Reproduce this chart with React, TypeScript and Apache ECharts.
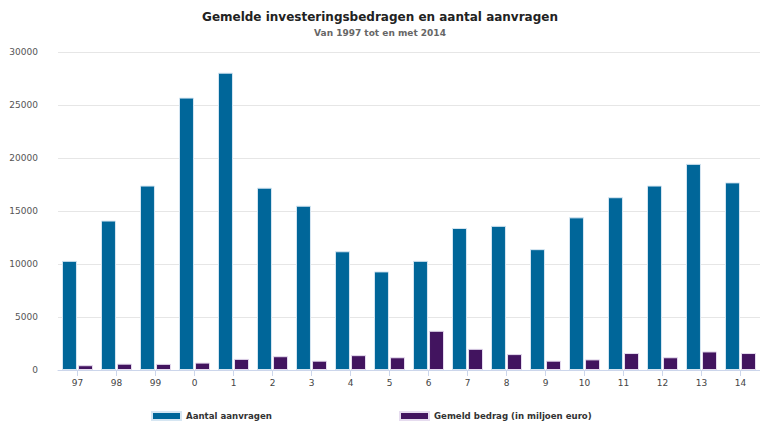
import React, { useEffect, useRef } from "react";
import * as echarts from "echarts";

const categories = ["97", "98", "99", "0", "1", "2", "3", "4", "5", "6", "7", "8", "9", "10", "11", "12", "13", "14"];
const aanvragen = [10300, 14100, 17400, 25700, 28050, 17200, 15500, 11200, 9300, 10300, 13400, 13600, 11400, 14400, 16300, 17400, 19450, 17700];
const bedrag = [450, 600, 580, 700, 1050, 1300, 880, 1400, 1200, 3700, 2000, 1500, 880, 1000, 1600, 1200, 1750, 1600];

const FONT = "DejaVu Sans, Verdana, sans-serif";

export default function App() {
  const ref = useRef<HTMLDivElement>(null);
  useEffect(() => {
    if (!ref.current) return;
    const chart = echarts.init(ref.current, undefined, { renderer: "svg" });
    const legendText = { fontFamily: FONT, fontSize: 8.6, fontWeight: "bold", color: "#333" };
    chart.setOption({
      animation: false,
      backgroundColor: "#ffffff",
      textStyle: { fontFamily: FONT },
      title: {
        text: "Gemelde investeringsbedragen en aantal aanvragen",
        subtext: "Van 1997 tot en met 2014",
        left: "center",
        top: 6,
        itemGap: 5,
        textStyle: { fontFamily: FONT, fontSize: 12, fontWeight: "bold", color: "#222" },
        subtextStyle: { fontFamily: FONT, fontSize: 9, fontWeight: "bold", color: "#666" },
      },
      legend: [
        {
          data: ["Aantal aanvragen"],
          left: 151,
          top: 411,
          padding: 0,
          itemWidth: 29,
          itemHeight: 8,
          itemGap: 8,
          icon: "rect",
          textStyle: legendText,
        },
        {
          data: ["Gemeld bedrag (in miljoen euro)"],
          left: 399,
          top: 411,
          padding: 0,
          itemWidth: 29,
          itemHeight: 8,
          itemGap: 8,
          icon: "rect",
          textStyle: legendText,
        },
      ],
      grid: { left: 58, right: -4, top: 52, bottom: 53 },
      xAxis: {
        type: "category",
        data: categories,
        axisLine: { lineStyle: { color: "#ccd6eb" } },
        axisTick: { show: true, alignWithLabel: true, length: 6, lineStyle: { color: "#ccd6eb" } },
        axisLabel: { fontFamily: FONT, fontSize: 9, color: "#444", margin: 8 },
      },
      yAxis: {
        type: "value",
        min: 0,
        max: 30000,
        interval: 5000,
        axisLine: { show: false },
        axisTick: { show: false },
        splitLine: { lineStyle: { color: "#e6e6e6" } },
        axisLabel: {
          fontFamily: FONT,
          fontSize: 9,
          color: "#555",
          margin: 20,
          formatter: (v: number) => String(v),
        },
      },
      series: [
        {
          name: "Aantal aanvragen",
          type: "bar",
          data: aanvragen,
          barWidth: 15,
          barGap: "7%",
          itemStyle: { color: "#006699", borderColor: "#d6e6f2", borderWidth: 1 },
        },
        {
          name: "Gemeld bedrag (in miljoen euro)",
          type: "bar",
          data: bedrag,
          barWidth: 15,
          itemStyle: { color: "#42145f", borderColor: "#e6dcef", borderWidth: 1 },
        },
      ],
    });
    return () => chart.dispose();
  }, []);
  return <div ref={ref} style={{ position: "absolute", left: 0, top: 0, width: 760, height: 423 }} />;
}
